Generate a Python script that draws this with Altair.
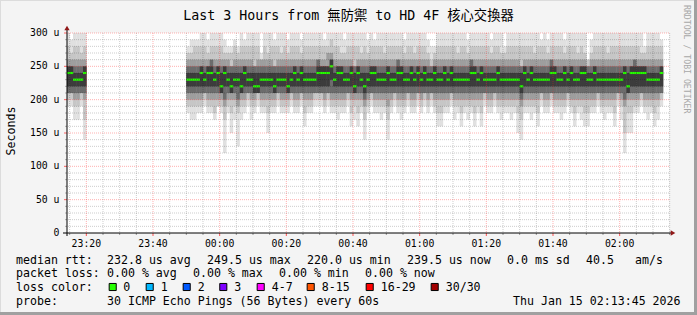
import altair as alt
import pandas as pd

# ---------------------------------------------------------------- data
# one sample per minute; minutes counted from 23:00
left_minutes = list(range(14, 20))      # 23:14 .. 23:19
main_minutes = list(range(50, 193))     # 23:50 .. 02:12

median_rtt = [240, 240, 230, 230, 230, 240] + [
    230, 230, 230, 230, 240, 230, 240, 240, 230, 240,
    220, 240, 230, 220, 230, 230, 220, 240, 230, 230,
    220, 220, 230, 230, 230, 230, 220, 230, 230, 230,
    220, 230, 240, 230, 240, 230, 230, 230, 230, 240,
    240, 240, 240, 250, 230, 240, 240, 230, 230, 240,
    220, 240, 230, 220, 230, 240, 240, 230, 230, 230,
    240, 230, 230, 240, 240, 230, 230, 240, 230, 240,
    230, 240, 230, 230, 240, 230, 230, 240, 230, 240,
    230, 230, 230, 230, 230, 240, 240, 230, 240, 230,
    230, 230, 230, 240, 230, 230, 230, 230, 230, 230,
    220, 240, 230, 240, 230, 230, 230, 230, 230, 240,
    240, 230, 230, 240, 230, 240, 230, 230, 240, 240,
    230, 230, 240, 230, 230, 230, 230, 230, 230, 230,
    230, 240, 220, 240, 240, 240, 240, 240, 230, 230,
    230, 230, 240]

# smoke: nested ranges of the 30 pings per minute (us), outer -> inner
ping_min = [190, 190, 170, 170, 190, 140] + [
    180, 170, 170, 180, 180, 190, 180, 180, 170, 190,
    180, 120, 180, 150, 170, 130, 170, 180, 190, 170,
    180, 190, 180, 180, 150, 180, 180, 190, 180, 180,
    180, 190, 180, 180, 190, 160, 180, 180, 190, 190,
    190, 180, 190, 180, 180, 170, 180, 180, 190, 160,
    170, 160, 180, 140, 180, 190, 180, 180, 170, 180,
    140, 180, 190, 180, 170, 180, 190, 180, 180, 190,
    180, 190, 180, 190, 180, 160, 160, 180, 180, 190,
    170, 180, 160, 180, 170, 180, 160, 180, 160, 190,
    180, 180, 190, 180, 170, 180, 180, 170, 180, 150,
    140, 180, 180, 170, 180, 160, 190, 180, 180, 190,
    180, 180, 170, 180, 190, 180, 160, 180, 170, 160,
    160, 180, 180, 190, 180, 170, 180, 180, 160, 190,
    170, 120, 150, 150, 180, 180, 190, 180, 170, 180,
    160, 170, 190]

ping_max = [300, 290, 300, 300, 300, 300] + [
    280, 290, 290, 290, 300, 300, 290, 300, 300, 300,
    300, 290, 280, 280, 290, 280, 300, 290, 300, 300,
    300, 300, 270, 300, 300, 300, 290, 300, 300, 300,
    290, 300, 300, 300, 290, 300, 300, 300, 300, 300,
    300, 290, 300, 300, 300, 300, 300, 290, 300, 300,
    300, 300, 300, 300, 290, 300, 290, 300, 300, 300,
    300, 300, 300, 300, 300, 290, 300, 300, 300, 300,
    300, 300, 290, 280, 280, 300, 300, 300, 300, 300,
    300, 300, 300, 300, 290, 300, 300, 300, 300, 300,
    300, 290, 300, 300, 300, 280, 300, 300, 300, 300,
    300, 300, 300, 300, 300, 300, 290, 300, 290, 300,
    300, 300, 300, 290, 300, 300, 300, 300, 300, 300,
    260, 290, 300, 300, 300, 300, 300, 300, 300, 300,
    300, 300, 300, 300, 300, 300, 300, 280, 300, 300,
    300, 300, 290]

light_lo = [200, 200, 190, 190, 200, 170] + [
    190, 190, 190, 190, 190, 200, 190, 190, 180, 190,
    190, 170, 190, 180, 190, 180, 190, 190, 200, 190,
    190, 200, 190, 190, 180, 190, 190, 200, 190, 190,
    190, 200, 190, 190, 200, 180, 190, 190, 200, 200,
    200, 190, 200, 190, 190, 190, 190, 190, 200, 180,
    190, 180, 190, 170, 190, 200, 190, 190, 190, 190,
    170, 190, 200, 190, 190, 190, 200, 190, 190, 200,
    190, 200, 190, 200, 190, 180, 180, 190, 190, 200,
    190, 190, 180, 190, 190, 190, 180, 190, 180, 200,
    190, 190, 200, 190, 190, 190, 190, 190, 190, 180,
    170, 190, 190, 190, 190, 180, 200, 190, 190, 200,
    190, 190, 190, 190, 200, 190, 180, 190, 190, 180,
    180, 190, 190, 200, 190, 190, 190, 190, 180, 200,
    190, 150, 180, 180, 190, 190, 200, 190, 190, 190,
    180, 190, 200]

light_hi = [280, 270, 280, 280, 270, 280] + [
    270, 270, 280, 280, 280, 280, 270, 280, 280, 280,
    280, 270, 270, 270, 280, 270, 280, 280, 280, 280,
    280, 280, 260, 280, 270, 280, 280, 280, 270, 280,
    270, 280, 280, 280, 270, 280, 280, 280, 280, 280,
    280, 280, 280, 290, 280, 280, 270, 270, 280, 280,
    280, 280, 270, 280, 270, 280, 280, 280, 280, 270,
    280, 280, 280, 280, 280, 270, 280, 280, 270, 280,
    280, 280, 270, 260, 270, 280, 280, 280, 280, 280,
    280, 270, 280, 280, 270, 280, 280, 280, 280, 280,
    280, 270, 280, 280, 270, 270, 280, 280, 280, 280,
    280, 280, 280, 280, 270, 280, 280, 280, 270, 280,
    280, 280, 280, 270, 280, 280, 280, 270, 280, 270,
    260, 270, 280, 280, 280, 280, 270, 280, 280, 280,
    280, 280, 280, 280, 280, 280, 270, 270, 280, 280,
    280, 280, 280]

mid_lo = [210, 210, 200, 200, 210, 200] + [
    200, 200, 200, 200, 200, 210, 200, 200, 200, 200,
    200, 190, 200, 200, 200, 190, 200, 200, 210, 200,
    200, 210, 200, 200, 200, 200, 200, 210, 200, 200,
    200, 210, 200, 200, 210, 200, 200, 200, 210, 210,
    210, 200, 210, 200, 200, 200, 200, 200, 210, 200,
    200, 200, 200, 190, 200, 210, 200, 200, 200, 200,
    190, 200, 210, 200, 200, 200, 210, 200, 200, 210,
    200, 210, 200, 210, 200, 200, 200, 200, 200, 210,
    200, 200, 200, 200, 200, 200, 200, 200, 200, 210,
    200, 200, 210, 200, 200, 200, 200, 200, 200, 200,
    190, 200, 200, 200, 200, 200, 210, 200, 200, 210,
    200, 200, 200, 200, 210, 200, 200, 200, 200, 200,
    200, 200, 200, 210, 200, 200, 200, 200, 200, 210,
    200, 190, 200, 200, 200, 200, 210, 200, 200, 200,
    200, 200, 210]

mid_hi = [260, 260, 260, 260, 260, 260] + [
    260, 260, 260, 260, 260, 260, 260, 260, 260, 260,
    260, 260, 260, 250, 260, 260, 260, 260, 260, 260,
    250, 260, 260, 260, 260, 260, 250, 260, 260, 260,
    260, 260, 260, 260, 260, 260, 260, 260, 260, 260,
    260, 260, 270, 270, 260, 260, 260, 260, 260, 260,
    250, 260, 260, 260, 260, 260, 260, 260, 260, 260,
    260, 260, 260, 260, 260, 260, 260, 260, 260, 260,
    260, 260, 260, 250, 260, 260, 260, 260, 260, 260,
    260, 260, 260, 260, 260, 260, 260, 260, 260, 260,
    260, 260, 260, 260, 260, 260, 260, 260, 260, 260,
    250, 260, 260, 260, 260, 260, 260, 260, 260, 260,
    260, 260, 260, 260, 260, 260, 260, 260, 260, 260,
    250, 260, 260, 260, 260, 260, 260, 260, 260, 260,
    260, 260, 260, 260, 260, 260, 260, 260, 260, 260,
    260, 260, 260]

dark_lo = [210, 210, 210, 210, 210, 210] + [
    210, 210, 210, 210, 210, 210, 210, 210, 210, 210,
    210, 200, 210, 210, 210, 200, 210, 210, 210, 210,
    210, 210, 210, 210, 210, 210, 210, 210, 210, 210,
    210, 210, 210, 210, 210, 210, 210, 210, 210, 210,
    210, 210, 210, 210, 210, 210, 210, 210, 210, 210,
    210, 210, 210, 200, 210, 210, 210, 210, 210, 210,
    210, 210, 210, 210, 210, 210, 210, 210, 210, 210,
    210, 210, 210, 210, 210, 210, 210, 210, 210, 210,
    210, 210, 210, 210, 210, 210, 210, 210, 210, 210,
    210, 210, 210, 210, 210, 210, 210, 210, 210, 210,
    200, 210, 210, 210, 210, 210, 210, 210, 210, 210,
    210, 210, 210, 210, 210, 210, 210, 210, 210, 210,
    210, 210, 210, 210, 210, 210, 210, 210, 210, 210,
    210, 200, 210, 210, 210, 210, 210, 210, 210, 210,
    210, 210, 210]

dark_hi = [250, 250, 250, 250, 250, 250] + [
    250, 250, 250, 250, 250, 250, 250, 260, 250, 250,
    250, 250, 250, 250, 250, 250, 250, 250, 250, 250,
    250, 250, 250, 250, 250, 250, 250, 250, 250, 250,
    250, 250, 250, 250, 250, 250, 250, 250, 250, 260,
    250, 250, 250, 260, 250, 250, 250, 250, 250, 250,
    250, 250, 250, 250, 250, 250, 250, 250, 250, 250,
    250, 250, 250, 260, 250, 250, 250, 250, 250, 250,
    250, 250, 250, 250, 250, 250, 250, 250, 250, 250,
    250, 250, 250, 250, 250, 260, 250, 250, 250, 250,
    250, 250, 250, 250, 250, 250, 250, 250, 250, 250,
    250, 250, 250, 250, 250, 250, 250, 250, 250, 260,
    250, 250, 250, 250, 250, 250, 250, 250, 250, 250,
    250, 250, 250, 250, 250, 250, 250, 250, 250, 250,
    250, 250, 250, 250, 260, 250, 250, 250, 250, 250,
    250, 250, 250]

core_lo = [220, 220, 220, 220, 220, 220] + [
    220, 220, 220, 220, 220, 220, 220, 220, 220, 220,
    210, 220, 220, 210, 220, 220, 210, 220, 220, 220,
    210, 210, 220, 220, 220, 220, 210, 220, 220, 220,
    210, 220, 220, 220, 220, 220, 220, 220, 220, 220,
    220, 220, 220, 230, 220, 220, 220, 220, 220, 220,
    210, 220, 220, 210, 220, 220, 220, 220, 220, 220,
    220, 220, 220, 220, 220, 220, 220, 220, 220, 220,
    220, 220, 220, 220, 220, 220, 220, 220, 220, 220,
    220, 220, 220, 220, 220, 220, 220, 220, 220, 220,
    220, 220, 220, 220, 220, 220, 220, 220, 220, 220,
    210, 220, 220, 220, 220, 220, 220, 220, 220, 220,
    220, 220, 220, 220, 220, 220, 220, 220, 220, 220,
    220, 220, 220, 220, 220, 220, 220, 220, 220, 220,
    220, 220, 210, 220, 220, 220, 220, 220, 220, 220,
    220, 220, 220]

core_hi = [250, 250, 240, 240, 240, 250] + [
    240, 240, 240, 240, 250, 240, 250, 250, 240, 250,
    240, 250, 240, 240, 240, 240, 240, 250, 240, 240,
    240, 240, 240, 240, 240, 240, 240, 240, 240, 240,
    240, 240, 250, 240, 250, 240, 240, 240, 240, 250,
    250, 250, 250, 260, 240, 250, 250, 240, 240, 250,
    240, 250, 240, 240, 240, 250, 250, 240, 240, 240,
    250, 240, 240, 250, 250, 240, 240, 250, 240, 250,
    240, 250, 240, 240, 250, 240, 240, 250, 240, 250,
    240, 240, 240, 240, 240, 250, 250, 240, 250, 240,
    240, 240, 240, 250, 240, 240, 240, 240, 240, 240,
    240, 250, 240, 250, 240, 240, 240, 240, 240, 250,
    250, 240, 240, 250, 240, 250, 240, 240, 250, 250,
    240, 240, 250, 240, 240, 240, 240, 240, 240, 240,
    240, 250, 240, 250, 250, 250, 250, 250, 240, 240,
    240, 240, 250]

# axis / legend texts
tick_minutes = [20, 40, 60, 80, 100, 120, 140, 160, 180]
tick_labels = ["23:20", "23:40", "00:00", "00:20", "00:40",
               "01:00", "01:20", "01:40", "02:00"]
y_values = [0, 50, 100, 150, 200, 250, 300]
y_labels = ["0\u00a0\u00a0", "50 u", "100 u", "150 u", "200 u", "250 u", "300 u"]

title_text = "Last 3 Hours from 無防禦 to HD 4F 核心交換器"
line1 = ["median rtt:", "232.8 us avg", "249.5 us max", "220.0 us min",
         "239.5 us now", "0.0 ms sd", "40.5", "am/s"]
line2 = ["packet loss:", "0.00 % avg", "0.00 % max", "0.00 % min", "0.00 % now"]
loss_labels = ["0", "1", "2", "3", "4-7", "8-15", "16-29", "30/30"]
loss_colors = ["#26ff00", "#00b8ff", "#0059ff", "#7e00ff",
               "#ff00ff", "#ff5500", "#ff0000", "#a10000"]
line4 = ["probe:", "30 ICMP Echo Pings (56 Bytes) every 60s",
         "Thu Jan 15 02:13:45 2026"]

# ---------------------------------------------------------------- layout
W, H = 602, 200
X0, Y0 = 67, 33          # plot origin inside the 697x315 canvas
FONT = "DejaVu Sans Mono"
FONT_CJK = "DejaVu Sans Mono, Noto Sans CJK TC, Noto Sans CJK SC"

xs = alt.Scale(domain=[14.2, 194.8], nice=False, zero=False)
ys = alt.Scale(domain=[0, 300], nice=False, zero=False)

df = pd.DataFrame({
    "t0": left_minutes + main_minutes,
    "mn": ping_min, "mx": ping_max,
    "l2": light_lo, "h2": light_hi,
    "l3": mid_lo, "h3": mid_hi,
    "l4": dark_lo, "h4": dark_hi,
    "l5": core_lo, "h5": core_hi,
    "med": median_rtt,
})
df["t1"] = df["t0"] + 1.06
df["g_lo"] = df["med"] - 1.6
df["g_hi"] = df["med"] + 1.6

one = pd.DataFrame({"a": [0]})


def band(lo, hi, color):
    return alt.Chart(df).mark_rect(color=color, clip=True).encode(
        x=alt.X("t0:Q", scale=xs, axis=None), x2="t1:Q",
        y=alt.Y(f"{lo}:Q", scale=ys, axis=None), y2=f"{hi}:Q")


def vrules(vals, color, opacity, dash=None, y=None, y2=None):
    mk = dict(color=color, opacity=opacity, strokeWidth=1)
    if dash:
        mk["strokeDash"] = dash
    enc = dict(x=alt.X("m:Q", scale=xs, axis=None))
    if y is not None:
        enc["y"] = alt.value(y)
        enc["y2"] = alt.value(y2)
    return alt.Chart(pd.DataFrame({"m": vals})).mark_rule(**mk).encode(**enc)


def hrules(vals, color, opacity, dash=None, x=None, x2=None):
    mk = dict(color=color, opacity=opacity, strokeWidth=1)
    if dash:
        mk["strokeDash"] = dash
    enc = dict(y=alt.Y("v:Q", scale=ys, axis=None))
    if x is not None:
        enc["x"] = alt.value(x)
        enc["x2"] = alt.value(x2)
    return alt.Chart(pd.DataFrame({"v": vals})).mark_rule(**mk).encode(**enc)


def texts(strings, xs_abs, ys_abs, size, align="left", baseline="alphabetic",
          font=FONT, color="#000000", angle=0):
    t = pd.DataFrame({"txt": strings,
                      "px": [v - X0 for v in xs_abs],
                      "py": [v - Y0 for v in ys_abs]})
    return alt.Chart(t).mark_text(
        align=align, baseline=baseline, font=font, fontSize=size,
        color=color, angle=angle).encode(
        x=alt.X("px:Q", scale=None, axis=None),
        y=alt.Y("py:Q", scale=None, axis=None),
        text="txt:N")


def fixed_rule(x, x2, y, y2, color, width=1):
    return alt.Chart(one).mark_rule(color=color, strokeWidth=width).encode(
        x=alt.value(x), x2=alt.value(x2), y=alt.value(y), y2=alt.value(y2))


layers = []

# smoke, outer (light) to inner (dark)
layers.append(band("mn", "mx", "#e0e0e0"))
layers.append(band("l2", "h2", "#c6c6c6"))
layers.append(band("l3", "h3", "#9e9e9e"))
layers.append(band("l4", "h4", "#6c6c6c"))
layers.append(band("l5", "h5", "#3c3c3c"))
# median, coloured by loss (0 loss -> green)
layers.append(band("g_lo", "g_hi", loss_colors[0]))

# grid (dotted), drawn over the smoke
vminor = [m for m in range(15, 196, 5) if m % 20]
vmajor = list(range(20, 181, 20))
hminor = [v for v in range(10, 300, 10) if v % 50]
hmajor = list(range(50, 301, 50))
layers.append(vrules(vminor, "#000000", 0.2, dash=[1, 1]))
layers.append(hrules(hminor, "#000000", 0.2, dash=[1, 1]))
layers.append(vrules(vmajor, "#ff2020", 0.35, dash=[1, 1]))
layers.append(hrules(hmajor, "#ff2020", 0.35, dash=[1, 1]))

# ticks
layers.append(vrules(vminor, "#808080", 0.8, y=200, y2=202))
layers.append(vrules(vmajor, "#ff4040", 0.9, y=200, y2=203))
layers.append(hrules(hminor, "#808080", 0.6, x=-2, x2=0))
layers.append(hrules(hmajor, "#ff4040", 0.8, x=-3, x2=0))

# axis lines and arrows
layers.append(fixed_rule(0, 0, -5, 203, "#000000"))
layers.append(fixed_rule(-4, 605, 200, 200, "#000000"))
layers.append(alt.Chart(one).mark_point(
    shape="triangle-up", filled=True, size=28, color="#901818", opacity=1).encode(
    x=alt.value(0), y=alt.value(-5)))
layers.append(alt.Chart(one).mark_point(
    shape="triangle-right", filled=True, size=28, color="#901818", opacity=1).encode(
    x=alt.value(606), y=alt.value(200)))

# axis labels
layers.append(alt.Chart(pd.DataFrame({"m": tick_minutes, "lab": tick_labels}))
              .mark_text(font=FONT, fontSize=9.8, align="center",
                         baseline="alphabetic", color="#000000")
              .encode(x=alt.X("m:Q", scale=xs, axis=None),
                      y=alt.value(246.5 - Y0), text="lab:N"))
layers.append(alt.Chart(pd.DataFrame({"v": y_values, "lab": y_labels}))
              .mark_text(font=FONT, fontSize=9.8, align="right",
                         baseline="middle", color="#000000")
              .encode(y=alt.Y("v:Q", scale=ys, axis=None),
                      x=alt.value(59.5 - X0), text="lab:N"))

# title, axis title, side credit
layers.append(texts([title_text], [348.5], [19.5], 13.3, align="center",
                    font=FONT_CJK))
layers.append(texts(["Seconds"], [15], [131], 11.6, align="center", angle=270))
layers.append(texts(["RRDTOOL / TOBI OETIKER"], [683.5], [5], 8.2,
                    align="left", angle=90, color="#a8a8a8"))

# legend lines
layers.append(texts(line1, [16, 107, 207, 307, 407, 507, 586, 635],
                    [263.5] * len(line1), 11.6))
layers.append(texts(line2, [16, 107, 193, 279, 365], [277.2] * len(line2), 11.6))
layers.append(texts(["loss color:"], [16], [291], 11.6))
box_x = [112.7, 149.7, 186.7, 223.3, 260.7, 310.7, 369.7, 434.7]
label_x = [123.3, 160.7, 197.7, 234.3, 271.7, 321.7, 380.7, 445.7]
boxes = pd.DataFrame({"px": [v - X0 for v in box_x],
                      "py": [287 - Y0] * len(box_x),
                      "c": loss_colors})
layers.append(alt.Chart(boxes).mark_point(
    shape="square", filled=True, size=50, stroke="#000000", strokeWidth=1,
    opacity=1).encode(
    x=alt.X("px:Q", scale=None, axis=None),
    y=alt.Y("py:Q", scale=None, axis=None),
    fill=alt.Fill("c:N", scale=None, legend=None)))
layers.append(texts(loss_labels, label_x, [291] * len(loss_labels), 11.6))
layers.append(texts(line4, [16, 107, 513], [305] * len(line4), 11.6))

# canvas frame
layers.append(fixed_rule(-X0, 697 - X0, -Y0 + 0.5, -Y0 + 0.5, "#dcdcdc", 1))
layers.append(fixed_rule(-X0 + 0.5, -X0 + 0.5, -Y0, 315 - Y0, "#dcdcdc", 1))
layers.append(fixed_rule(697 - X0 - 1.5, 697 - X0 - 1.5, -Y0, 315 - Y0, "#a0a0a0", 3))
layers.append(fixed_rule(-X0, 697 - X0, 315 - Y0 - 1.5, 315 - Y0 - 1.5, "#a0a0a0", 3))

chart = (alt.layer(*layers)
         .resolve_scale(x="independent", y="independent")
         .properties(width=W, height=H,
                     padding={"left": X0, "top": Y0,
                              "right": 697 - X0 - W, "bottom": 315 - Y0 - H},
                     autosize=alt.AutoSizeParams(type="none"),
                     background="#f4f4f4")
         .configure_view(stroke=None, fill="#ffffff"))

chart.save("out.html", embed_options={"renderer": "svg", "actions": False})
